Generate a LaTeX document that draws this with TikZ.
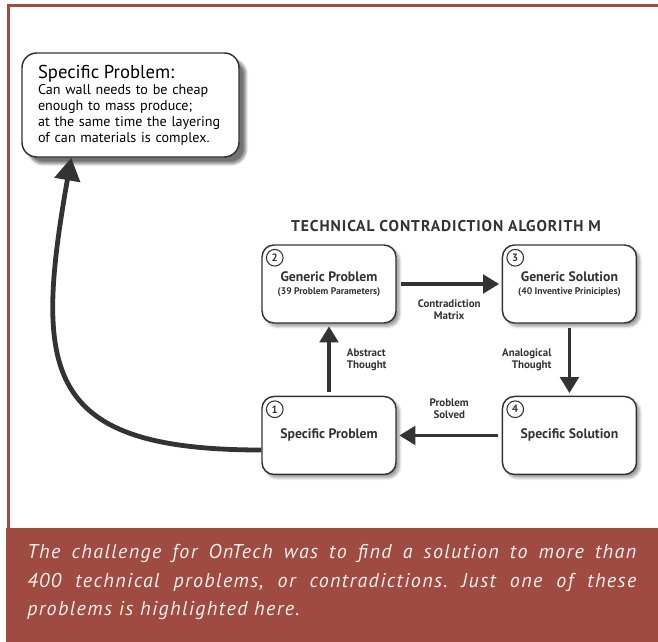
\documentclass[tikz,border=0pt]{standalone}
\usepackage{fontspec}
\setmainfont{PT Sans}
\usepackage{xcolor}
\usepackage{tikz}
\usetikzlibrary{arrows.meta,positioning,shadows.blur}
\definecolor{tcaline}{HTML}{333333}
\definecolor{tcared}{HTML}{A04B41}
\definecolor{tcacream}{HTML}{F7F0EE}
\newcommand{\tcasub}[1]{{\fontsize{7.2}{8}\selectfont #1}}
\frenchspacing

\begin{document}
\begin{tikzpicture}[
    x=0.75pt, y=-0.75pt,
    node distance=54pt and 78.75pt,
    stage/.style={rectangle, rounded corners=9pt, draw=tcaline, fill=white, line width=1.1pt, minimum width=100.5pt, minimum height=58.5pt, align=center, text=tcaline, font=\bfseries\fontsize{10.3}{11}\selectfont, blur shadow={shadow xshift=2.5pt, shadow yshift=-2.5pt, shadow blur steps=8, shadow opacity=40}},
    callout/.style={rectangle, rounded corners=11pt, draw=tcaline, fill=white, line width=1.1pt, minimum width=162.75pt, minimum height=78pt, inner xsep=12pt, text width=138.75pt, align=left, text=black, font=\fontsize{10.6}{12}\selectfont, blur shadow={shadow xshift=5pt, shadow yshift=-5pt, shadow blur steps=10, shadow opacity=55}},
    num/.style={circle, draw=tcaline, fill=white, line width=0.8pt, inner sep=0pt, minimum size=12.5pt, text=tcaline, font=\bfseries\fontsize{8}{8}\selectfont},
    lbl/.style={font=\bfseries\fontsize{8.2}{9}\selectfont, text=tcaline},
    arrow/.style={-{Triangle[length=12pt, width=14pt]}, line width=2.3pt, draw=tcaline, shorten <=3pt, shorten >=2pt},
    bigarrow/.style={-{Triangle[length=17pt, width=19pt]}, line width=3.6pt, draw=tcaline}
]
    \useasboundingbox (0,0) rectangle (658,642);

    % Frame and caption band
    \fill[tcared] (7,4) rectangle (658,7);
    \fill[tcared] (7,4) rectangle (10,528);
    \fill[tcared] (6,528) rectangle (658,642);
    \node (caption) [anchor=north west, inner sep=0pt, text width=456.75pt, align=justify, text=tcacream, font=\itshape\fontsize{15}{21.4}\selectfont\addfontfeatures{LetterSpace=7}] at (27,544) {The challenge for OnTech was to find a solution to more than\linebreak 400 technical problems, or contradictions. Just one of these\linebreak problems is highlighted here.};

    % Callout
    \node (callout) [callout] at (130.5,105) {
        {\fontsize{14}{15}\selectfont Specific Problem:}\\
        Can wall needs to be cheap\\
        enough to mass produce;\\
        at the same time the layering\\
        of can materials is complex.
    };

    % Title
    \node (title) [text=tcaline, font=\bfseries\fontsize{11.7}{12}\selectfont\addfontfeatures{LetterSpace=6}] at (446,226) {TECHNICAL CONTRADICTION ALGORITH M};

    % Algorithm stages
    \node (b2) [stage] at (329,284) {Generic Problem\\[-1pt]\tcasub{(39 Problem Parameters)}};
    \node (b3) [stage, right=of b2] {Generic Solution\\[-1pt]\tcasub{(40 Inventive Priniciples)}};
    \node (b1) [stage, below=of b2] {Specific Problem};
    \node (b4) [stage, right=of b1] {Specific Solution};

    % Numbers
    \node (n1) [num] at ([shift={(13.5,13.5)}]b1.north west) {1};
    \node (n2) [num] at ([shift={(13.5,13.5)}]b2.north west) {2};
    \node (n3) [num] at ([shift={(13.5,13.5)}]b3.north west) {3};
    \node (n4) [num] at ([shift={(13.5,13.5)}]b4.north west) {4};

    % Arrows
    \draw [arrow] (b2) -- (b3) node [lbl, midway, below=7pt, align=center] {Contradiction\\Matrix};
    \draw [arrow] (b1) -- (b2) node [lbl, midway, right=9pt, align=left] {Abstract\\Thought};
    \draw [arrow] (b3) -- (b4) node [lbl, midway, left=9pt, align=right] {Analogical\\Thought};
    \draw [arrow] (b4) -- (b1) node [lbl, midway, above=8pt, align=center] {Problem\\Solved};
    \draw [bigarrow] ([yshift=-10.9pt]b1.west) to[out=180, in=-100, looseness=1.6] ([xshift=37.5pt]callout.south west);
\end{tikzpicture}
\end{document}
